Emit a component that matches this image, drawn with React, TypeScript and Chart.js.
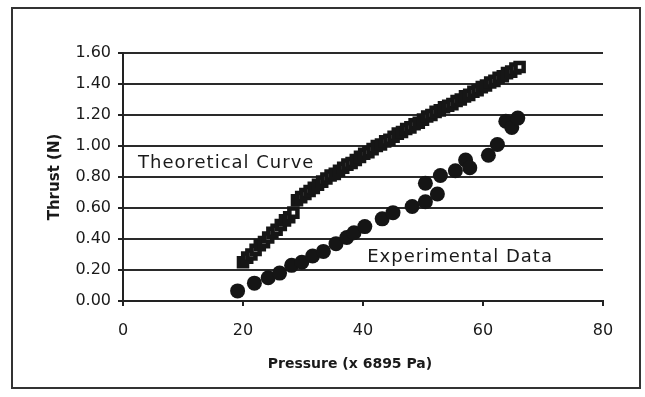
import React, { useEffect, useRef } from "react";
import { Chart, registerables } from "chart.js";

Chart.register(...registerables);

// Theoretical curve, lower branch (pressure, thrust)
const theoryLowX = [20.0, 20.7, 21.4, 22.1, 22.8, 23.5, 24.2, 24.9, 25.6, 26.3, 27.0, 27.7, 28.4];
const theoryLowY = [0.25, 0.28, 0.30, 0.33, 0.36, 0.38, 0.41, 0.44, 0.46, 0.49, 0.52, 0.54, 0.57];

// Theoretical curve, upper branch
const theoryHighX = [
  29.0, 29.7, 30.4, 31.1, 31.8, 32.5, 33.2, 33.9, 34.6, 35.3, 36.0, 36.7, 37.4, 38.1, 38.8, 39.5, 40.2, 40.9,
  41.6, 42.3, 43.0, 43.7, 44.4, 45.1, 45.8, 46.5, 47.2, 47.9, 48.6, 49.3, 50.0, 50.7, 51.4, 52.1, 52.8, 53.5,
  54.2, 54.9, 55.6, 56.3, 57.0, 57.7, 58.4, 59.1, 59.8, 60.5, 61.2, 61.9, 62.6, 63.3, 64.0, 64.7, 65.4, 66.1,
];
const theoryHighY = [
  0.65, 0.67, 0.69, 0.71, 0.73, 0.75, 0.77, 0.79, 0.81, 0.82, 0.84, 0.86, 0.88, 0.89, 0.91, 0.93, 0.95, 0.96,
  0.98, 1.0, 1.01, 1.03, 1.04, 1.06, 1.08, 1.09, 1.11, 1.12, 1.14, 1.15, 1.17, 1.19, 1.2, 1.22, 1.23, 1.25,
  1.26, 1.27, 1.29, 1.3, 1.32, 1.33, 1.35, 1.36, 1.38, 1.39, 1.41, 1.42, 1.44, 1.45, 1.47, 1.48, 1.5, 1.51,
];

// Experimental data
const expX = [
  19.1, 21.9, 24.2, 26.1, 28.1, 29.8, 31.6, 33.4, 35.5, 37.3, 38.5, 40.3, 43.2, 45.0, 48.2, 50.4, 52.4, 50.4,
  52.9, 55.4, 57.1, 57.8, 60.9, 62.4, 63.8, 64.8, 65.8,
];
const expY = [
  0.065, 0.115, 0.15, 0.18, 0.23, 0.25, 0.29, 0.32, 0.37, 0.41, 0.44, 0.48, 0.53, 0.57, 0.61, 0.64, 0.69, 0.76,
  0.81, 0.84, 0.91, 0.86, 0.94, 1.01, 1.16, 1.12, 1.18,
];

const xTicks = [0, 20, 40, 60, 80];
const yTicks = [0, 0.2, 0.4, 0.6, 0.8, 1.0, 1.2, 1.4, 1.6];

const xTitle = "Pressure (x 6895 Pa)";
const yTitle = "Thrust (N)";
const theoryLabel = "Theoretical Curve";
const theoryLabelPos = [2.5, 0.89];
const expLabel = "Experimental Data";
const expLabelPos = [40.7, 0.28];

const FONT = "'DejaVu Sans', sans-serif";

const zip = (xs: number[], ys: number[]) => xs.map((x, i) => ({ x, y: ys[i] }));

const decorPlugin = {
  id: "decor",
  beforeDraw(chart: any) {
    const ctx = chart.ctx;
    ctx.save();
    ctx.fillStyle = "#ffffff";
    ctx.fillRect(0, 0, chart.width, chart.height);
    ctx.strokeStyle = "#333";
    ctx.lineWidth = 2;
    ctx.strokeRect(12, 8, 628, 380);
    ctx.restore();
  },
  afterDraw(chart: any) {
    const ctx = chart.ctx;
    const xs = chart.scales.x;
    const ys = chart.scales.y;
    ctx.save();
    ctx.fillStyle = "#1a1a1a";
    ctx.textBaseline = "middle";
    ctx.textAlign = "left";
    ctx.font = `18px ${FONT}`;
    (ctx as any).letterSpacing = "1px";
    ctx.fillText(theoryLabel, xs.getPixelForValue(theoryLabelPos[0]), ys.getPixelForValue(theoryLabelPos[1]));
    ctx.fillText(expLabel, xs.getPixelForValue(expLabelPos[0]), ys.getPixelForValue(expLabelPos[1]));
    (ctx as any).letterSpacing = "0px";
    ctx.textAlign = "center";
    ctx.font = `bold 14px ${FONT}`;
    ctx.fillText(xTitle, 350, 364);
    ctx.translate(55, 177);
    ctx.rotate(-Math.PI / 2);
    ctx.font = `bold 15px ${FONT}`;
    ctx.fillText(yTitle, 0, 0);
    ctx.restore();
  },
};

export default function App() {
  const ref = useRef<HTMLCanvasElement>(null);
  useEffect(() => {
    if (!ref.current) return;
    const theoryStyle = {
      pointStyle: "rect",
      pointRadius: 5.7,
      backgroundColor: "#ffffff",
      borderColor: "#161616",
      borderWidth: 4.5,
      showLine: false,
    };
    const chart = new Chart(ref.current, {
      type: "scatter",
      data: {
        datasets: [
          { label: "Theory low", data: zip(theoryLowX, theoryLowY), ...theoryStyle } as any,
          { label: "Theory high", data: zip(theoryHighX, theoryHighY), ...theoryStyle } as any,
          {
            label: "Experimental",
            data: zip(expX, expY),
            pointStyle: "circle",
            pointRadius: 7.5,
            backgroundColor: "#151515",
            borderWidth: 0,
            showLine: false,
          },
        ],
      },
      options: {
        animation: false,
        responsive: false,
        devicePixelRatio: 1,
        layout: { padding: { top: 53, right: 42, left: 0, bottom: 0 } },
        plugins: { legend: { display: false }, tooltip: { enabled: false } },
        scales: {
          x: {
            type: "linear",
            min: 0,
            max: 80,
            afterBuildTicks: (s: any) => {
              s.ticks = xTicks.map((v) => ({ value: v }));
            },
            afterFit: (s: any) => {
              s.height = 96;
            },
            grid: {
              color: "rgba(0,0,0,0)",
              tickColor: "#222",
              tickLength: 5,
              lineWidth: 2,
              drawTicks: true,
            },
            border: { display: true, color: "#222", width: 2 },
            ticks: {
              padding: 15,
              color: "#1a1a1a",
              font: { family: FONT, size: 16 },
              callback: (v: any) => String(v),
            },
          },
          y: {
            type: "linear",
            min: 0,
            max: 1.6,
            afterBuildTicks: (s: any) => {
              s.ticks = yTicks.map((v) => ({ value: v }));
            },
            afterFit: (s: any) => {
              s.width = 123;
            },
            grid: {
              color: "#2a2a2a",
              tickColor: "#222",
              tickLength: 5,
              lineWidth: 2,
            },
            border: { display: true, color: "#222", width: 2 },
            ticks: {
              padding: 7,
              color: "#1a1a1a",
              font: { family: FONT, size: 16 },
              callback: (v: any) => Number(v).toFixed(2),
            },
          },
        },
      },
      plugins: [decorPlugin],
    });
    return () => chart.destroy();
  }, []);
  return (
    <div style={{ position: "fixed", left: 0, top: 0, width: 645, height: 397, background: "#fff" }}>
      <canvas ref={ref} width={645} height={397} style={{ width: 645, height: 397, display: "block" }} />
    </div>
  );
}
